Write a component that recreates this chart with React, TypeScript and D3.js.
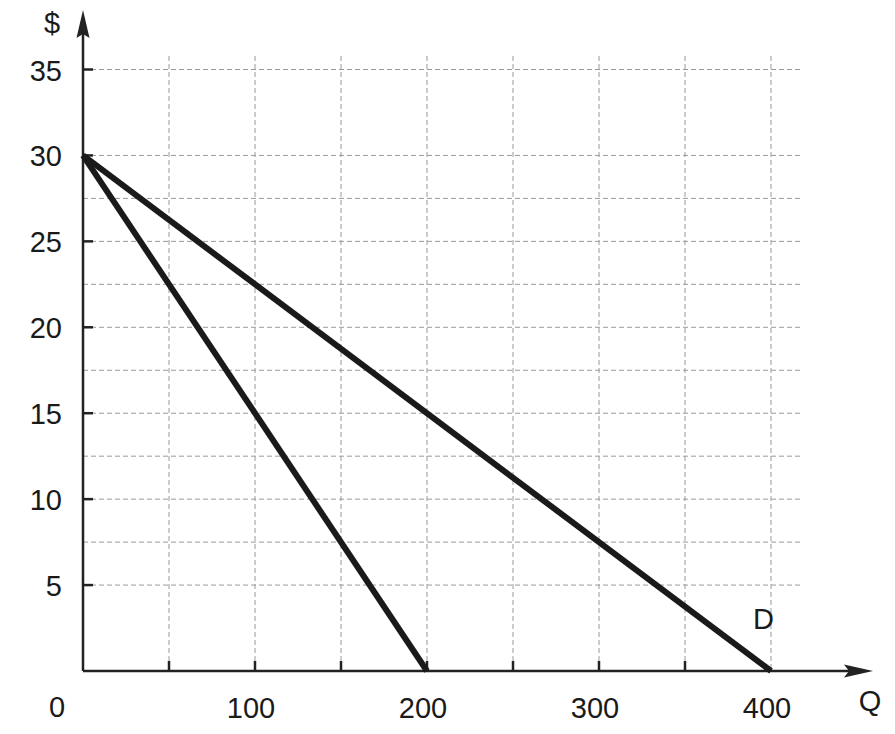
import React from "react";
import * as d3 from "d3";

const W = 895;
const H = 734;

const xTicks = [50, 100, 150, 200, 250, 300, 350, 400];
const xTickLabels = [100, 200, 300, 400];
const yTicks = [5, 10, 15, 20, 25, 30, 35];
const yMinorGrid = [7.5, 12.5, 17.5, 22.5, 27.5];

// Demand curve D and marginal revenue curve
const demandQ = [0, 400];
const demandP = [30, 0];
const mrQ = [0, 200];
const mrP = [30, 0];

export default function App() {
  const x = d3.scaleLinear().domain([0, 400]).range([83, 771]);
  const y = d3.scaleLinear().domain([0, 35]).range([671, 69.5]);

  const line = d3
    .line<[number, number]>()
    .x((d) => x(d[0]))
    .y((d) => y(d[1]));

  const demand = demandQ.map((q, i) => [q, demandP[i]] as [number, number]);
  const mr = mrQ.map((q, i) => [q, mrP[i]] as [number, number]);

  const font = "Liberation Sans, Arial, Helvetica, sans-serif";
  const gridColor = "#9a9a9a";
  const axisColor = "#222";

  const x0 = x(0);
  const y0 = y(0);

  return (
    <svg
      width={W}
      height={H}
      style={{ position: "absolute", left: 0, top: 0, background: "#fff" }}
      fontFamily={font}
    >
      {/* grid */}
      {[...yTicks, ...yMinorGrid].map((v) => (
        <line
          key={"h" + v}
          x1={x0}
          x2={800}
          y1={y(v)}
          y2={y(v)}
          stroke={gridColor}
          strokeWidth={1}
          strokeDasharray="5,3"
        />
      ))}
      {xTicks.map((v) => (
        <line
          key={"v" + v}
          x1={x(v)}
          x2={x(v)}
          y1={56}
          y2={y0}
          stroke={gridColor}
          strokeWidth={1}
          strokeDasharray="5,3"
        />
      ))}

      {/* axes */}
      <line x1={x0} x2={x0} y1={y0} y2={30} stroke={axisColor} strokeWidth={2.5} />
      <line x1={x0} x2={850} y1={y0} y2={y0} stroke={axisColor} strokeWidth={2.5} />
      <path
        d={`M${x0},10 L${x0 + 6.5},38 L${x0},34 L${x0 - 6.5},38 Z`}
        fill={axisColor}
      />
      <path
        d={`M873,${y0} L844,${y0 - 6.5} L849,${y0} L844,${y0 + 6.5} Z`}
        fill={axisColor}
      />

      {/* ticks */}
      {yTicks.map((v) => (
        <line
          key={"yt" + v}
          x1={x0}
          x2={x0 + 10}
          y1={y(v)}
          y2={y(v)}
          stroke={axisColor}
          strokeWidth={2.5}
        />
      ))}
      {xTicks.slice(0, 7).map((v) => (
        <line
          key={"xt" + v}
          x1={x(v)}
          x2={x(v)}
          y1={y0}
          y2={y0 - 10}
          stroke={axisColor}
          strokeWidth={2.5}
        />
      ))}

      {/* curves */}
      <path d={line(mr) || ""} fill="none" stroke="#1a1a1a" strokeWidth={6} />
      <path d={line(demand) || ""} fill="none" stroke="#1a1a1a" strokeWidth={6} />

      {/* tick labels */}
      {yTicks.map((v) => (
        <text
          key={"yl" + v}
          x={62}
          y={y(v) + 11}
          textAnchor="end"
          fontSize={29}
          fill="#1a1a1a"
        >
          {v}
        </text>
      ))}
      {xTickLabels.map((v) => (
        <text
          key={"xl" + v}
          x={x(v) - 4}
          y={718}
          textAnchor="middle"
          fontSize={29}
          fill="#1a1a1a"
        >
          {v}
        </text>
      ))}
      <text x={57} y={717} textAnchor="middle" fontSize={29} fill="#1a1a1a">
        0
      </text>

      {/* axis titles and label */}
      <text x={52} y={33} textAnchor="middle" fontSize={29} fill="#1a1a1a">
        $
      </text>
      <text x={870} y={711} textAnchor="middle" fontSize={29} fill="#1a1a1a">
        Q
      </text>
      <text x={753} y={629} fontSize={29} fill="#1a1a1a">
        D
      </text>
    </svg>
  );
}
